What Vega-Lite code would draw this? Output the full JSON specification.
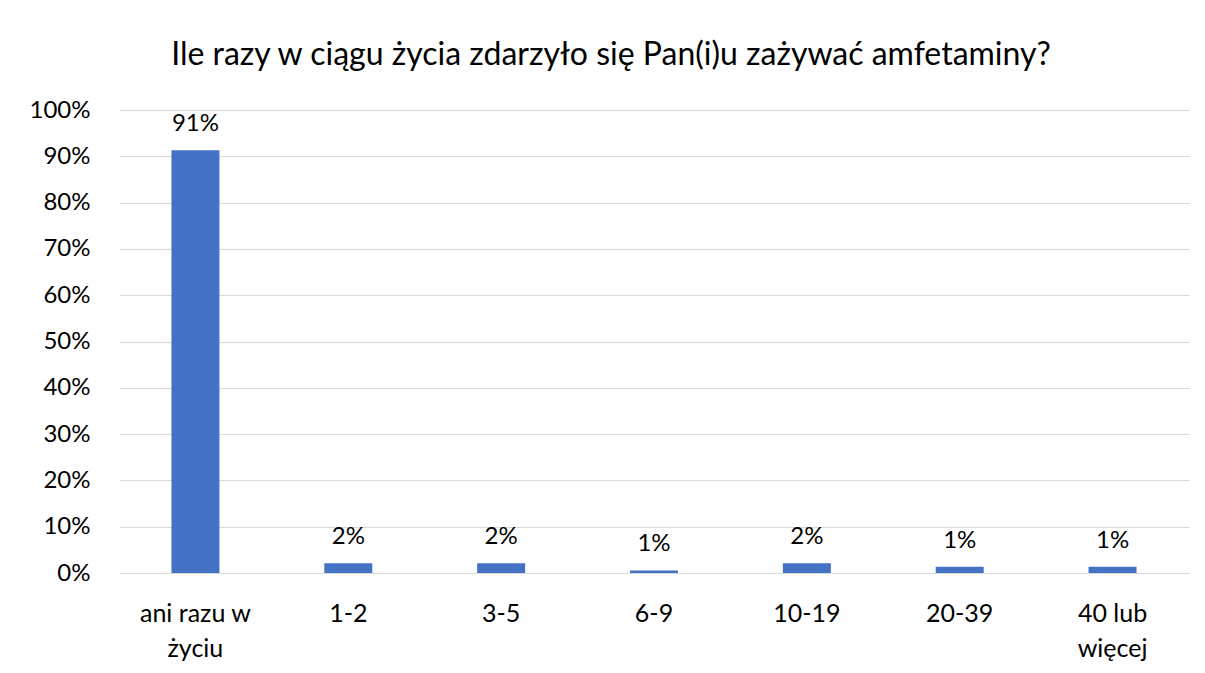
{
  "$schema": "https://vega.github.io/schema/vega-lite/v6.json",
  "autosize": "none",
  "width": 1070,
  "height": 463,
  "padding": {"left": 119, "top": 110, "right": 16, "bottom": 100},
  "background": "white",
  "title": {
    "text": "Ile razy w ciągu życia zdarzyło się Pan(i)u zażywać amfetaminy?",
    "font": "Lato",
    "fontSize": 32,
    "fontWeight": "normal",
    "color": "#000000",
    "anchor": "middle",
    "baseline": "alphabetic",
    "offset": 1,
    "dx": -43
  },
  "data": {
    "values": [
      {"kategoria": "ani razu w życiu", "wartosc": 0.913, "etykieta": "91%"},
      {"kategoria": "1-2", "wartosc": 0.021, "etykieta": "2%"},
      {"kategoria": "3-5", "wartosc": 0.021, "etykieta": "2%"},
      {"kategoria": "6-9", "wartosc": 0.0056, "etykieta": "1%"},
      {"kategoria": "10-19", "wartosc": 0.021, "etykieta": "2%"},
      {"kategoria": "20-39", "wartosc": 0.0136, "etykieta": "1%"},
      {"kategoria": "40 lub więcej", "wartosc": 0.0136, "etykieta": "1%"}
    ]
  },
  "encoding": {
    "x": {
      "field": "kategoria",
      "type": "nominal",
      "sort": null,
      "scale": {"paddingInner": 0.686, "paddingOuter": 0.343},
      "axis": {
        "title": null,
        "labelAngle": 0,
        "labelFont": "Lato",
        "labelFontSize": 25,
        "labelColor": "#000000",
        "labelPadding": 28,
        "labelLineHeight": 35,
        "labelBaseline": "top",
        "ticks": false,
        "domainColor": "#D9D9D9",
        "domainWidth": 1,
        "labelExpr": "datum.value == 'ani razu w życiu' ? ['ani razu w', 'życiu'] : datum.value == '40 lub więcej' ? ['40 lub', 'więcej'] : datum.value"
      }
    },
    "y": {
      "field": "wartosc",
      "type": "quantitative",
      "scale": {"domain": [0, 1], "nice": false},
      "axis": {
        "title": null,
        "format": ".0%",
        "values": [0, 0.1, 0.2, 0.3, 0.4, 0.5, 0.6, 0.7, 0.8, 0.9, 1],
        "labelFont": "Lato",
        "labelFontSize": 24,
        "labelColor": "#000000",
        "labelPadding": 29,
        "ticks": false,
        "domain": false,
        "gridColor": "#D9D9D9",
        "gridWidth": 1
      }
    }
  },
  "layer": [
    {"mark": {"type": "bar", "color": "#4472C4"}},
    {
      "mark": {"type": "text", "font": "Lato", "fontSize": 24, "color": "#000000", "baseline": "alphabetic", "dy": -19},
      "encoding": {"text": {"field": "etykieta"}}
    }
  ],
  "config": {"view": {"stroke": null}}
}
